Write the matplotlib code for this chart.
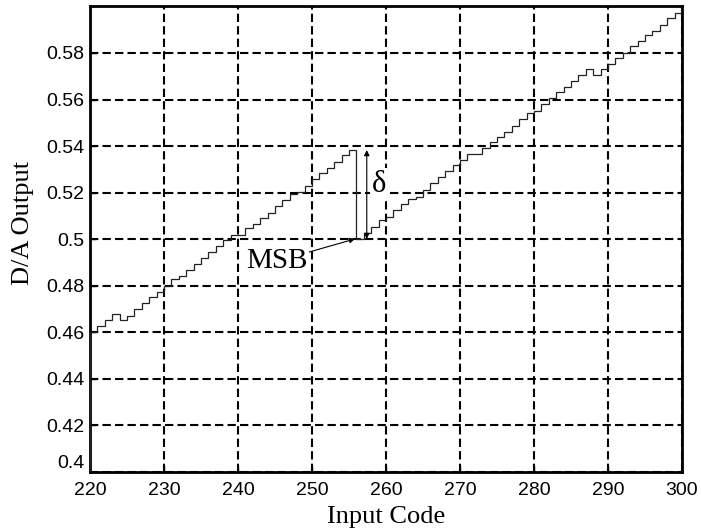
import numpy as np
import matplotlib.pyplot as plt

# D/A output per input code (codes 220..299)
codes = np.arange(220, 300)
output = [
    0.4603, 0.4627, 0.4653, 0.4679, 0.4653, 0.4670, 0.4699, 0.4725, 0.4750, 0.4775,
    0.4801, 0.4831, 0.4840, 0.4869, 0.4895, 0.4920, 0.4945, 0.4970, 0.4995, 0.5019,
    0.5019, 0.5047, 0.5067, 0.5090, 0.5114, 0.5141, 0.5169, 0.5192, 0.5204, 0.5230,
    0.5258, 0.5284, 0.5306, 0.5333, 0.5362, 0.5385, 0.5001, 0.5026, 0.5051, 0.5081,
    0.5095, 0.5125, 0.5151, 0.5171, 0.5183, 0.5211, 0.5243, 0.5269, 0.5291, 0.5319,
    0.5339, 0.5366, 0.5366, 0.5390, 0.5419, 0.5440, 0.5462, 0.5486, 0.5515, 0.5540,
    0.5552, 0.5581, 0.5605, 0.5634, 0.5655, 0.5681, 0.5705, 0.5730, 0.5705, 0.5730,
    0.5753, 0.5777, 0.5801, 0.5830, 0.5853, 0.5877, 0.5894, 0.5920, 0.5949, 0.5973,
]
xticks = [220, 230, 240, 250, 260, 270, 280, 290, 300]
yticks = [0.4, 0.42, 0.44, 0.46, 0.48, 0.5, 0.52, 0.54, 0.56, 0.58]
ytick_labels = ['0.4', '0.42', '0.44', '0.46', '0.48', '0.5', '0.52', '0.54', '0.56', '0.58']

# MSB transition and the delta marker
msb_code, msb_low, msb_high = 256, 0.5001, 0.5383
delta_x = 257.4

fig = plt.figure(figsize=(7.01, 5.29), dpi=100)
ax = fig.add_axes([0.1284, 0.1078, 0.8445, 0.8801])

ax.stairs(output, np.append(codes, codes[-1] + 1), color='#222222', linewidth=0.9, zorder=3)

ax.set_xlim(220, 300)
ax.set_ylim(0.4, 0.6)
ax.set_xticks(xticks)
ax.set_yticks(yticks)
ax.set_yticklabels(ytick_labels)
for lab in ax.get_xticklabels() + ax.get_yticklabels():
    lab.set_family('Liberation Sans')
    lab.set_fontsize(14)
ax.get_yticklabels()[0].set_va('bottom')
ax.tick_params(direction='in', length=4, width=1)
ax.tick_params(axis='x', pad=7)
ax.tick_params(axis='y', pad=4)

ax.grid(True, color='black', linestyle=(0, (4, 2)), linewidth=1.5)
for s in ax.spines.values():
    s.set_linewidth(2)

ax.set_xlabel('Input Code', family='Liberation Serif', fontsize=19, labelpad=5)
ax.set_ylabel('D/A Output', family='Liberation Serif', fontsize=19)
ax.yaxis.set_label_coords(-0.094, 0.535)

# delta double arrow
ax.annotate('', xy=(delta_x, msb_low), xytext=(delta_x, msb_high),
            arrowprops=dict(arrowstyle='<|-|>', color='black', lw=0.8,
                            mutation_scale=8, shrinkA=0, shrinkB=0), zorder=4)
ax.text(259.0, 0.5235, 'δ', family='Liberation Serif', fontsize=22,
        ha='center', va='center', zorder=4,
        bbox=dict(facecolor='white', edgecolor='none', pad=1))

# MSB pointer
ax.annotate('MSB', xy=(msb_code - 0.2, msb_low), xytext=(245.2, 0.4905),
            family='Liberation Serif', fontsize=21, ha='center', va='center',
            bbox=dict(facecolor='white', edgecolor='none', pad=1),
            arrowprops=dict(arrowstyle='-|>', color='black', lw=0.8,
                            mutation_scale=8, shrinkA=0, shrinkB=0), zorder=4)

fig.savefig('out.png', dpi=100)
